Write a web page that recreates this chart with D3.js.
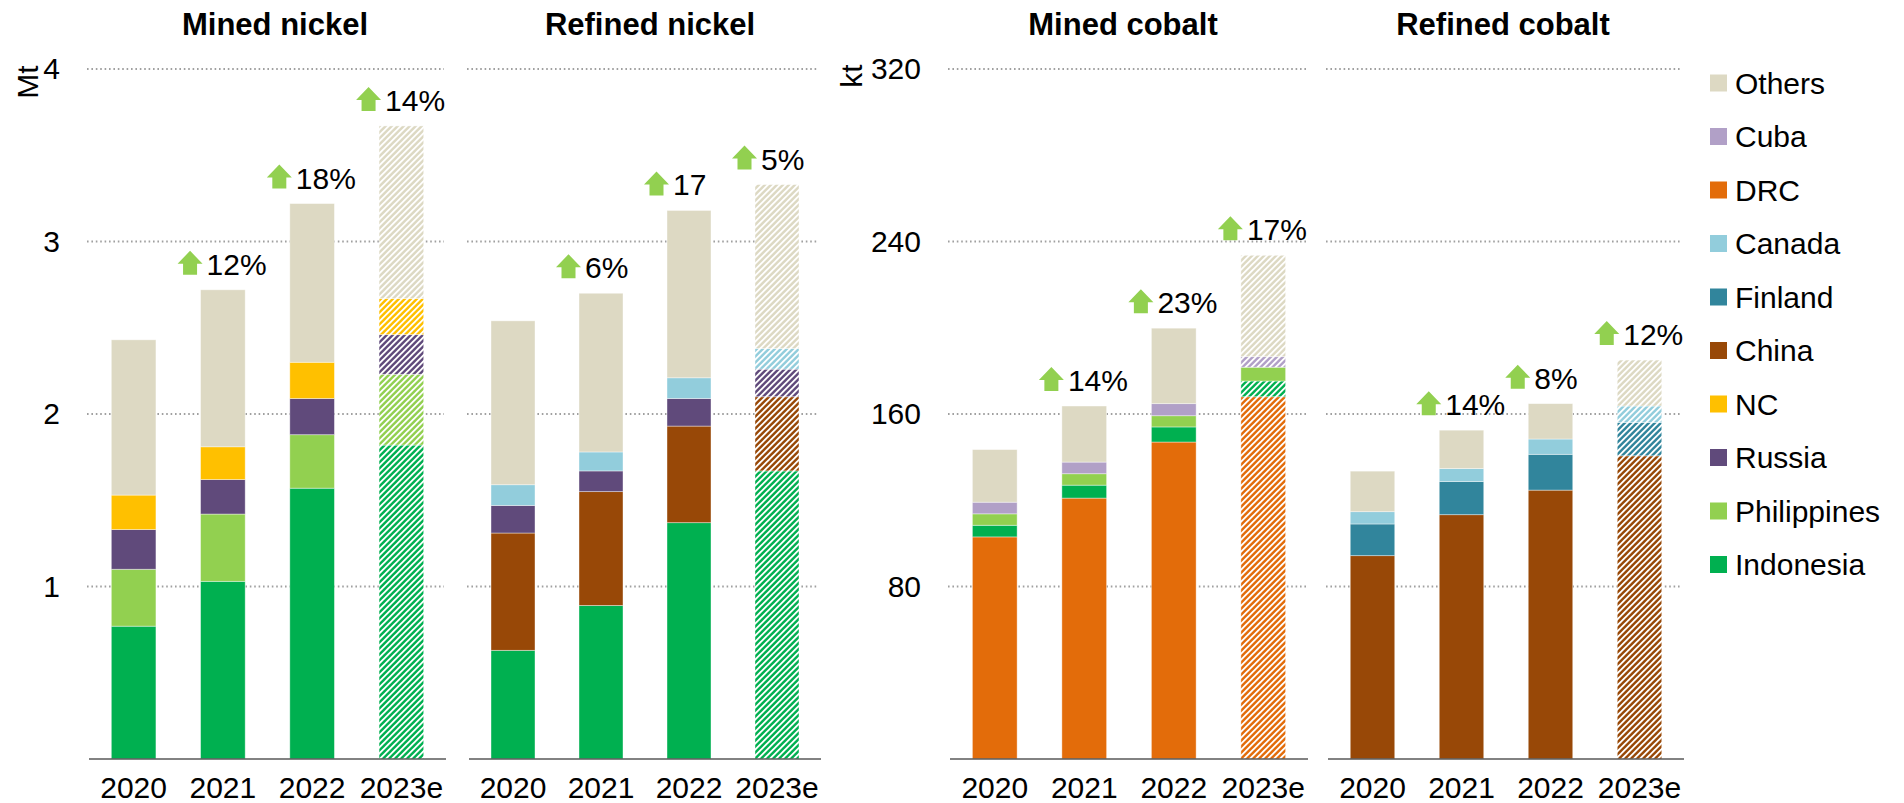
<!DOCTYPE html>
<html>
<head>
<meta charset="utf-8">
<script src="https://cdn.jsdelivr.net/npm/d3@7"></script>
<style>
  body { margin: 0; background: #fff; }
  svg { display: block; font-family: "Liberation Sans", Arial, sans-serif; }
</style>
</head>
<body>
<svg id="chart" width="1904" height="803"></svg>
<script>
// years on the x axis
const years = ["2020", "2021", "2022", "2023e"]

// legend order (top to bottom) and colours
const countries = ["Others", "Cuba", "DRC", "Canada", "Finland", "China", "NC", "Russia", "Philippines", "Indonesia"]
const countryColors = ["#DDD9C3", "#B1A0C7", "#E36C0A", "#92CDDC", "#31859C", "#984807", "#FFC000", "#604A7B", "#92D050", "#00B050"]

// mined nickel, Mt
const mnIndonesia   = [0.77, 1.03, 1.57, 1.82]
const mnPhilippines = [0.33, 0.39, 0.31, 0.41]
const mnRussia      = [0.23, 0.20, 0.21, 0.23]
const mnNC          = [0.20, 0.19, 0.21, 0.21]
const mnOthers      = [0.90, 0.91, 0.92, 1.00]
const mnGrowth      = ["", "12%", "18%", "14%"]

// refined nickel, Mt
const rnIndonesia = [0.63, 0.89, 1.37, 1.67]
const rnChina     = [0.68, 0.66, 0.56, 0.43]
const rnRussia    = [0.16, 0.12, 0.16, 0.16]
const rnCanada    = [0.12, 0.11, 0.12, 0.12]
const rnOthers    = [0.95, 0.92, 0.97, 0.95]
const rnGrowth    = ["", "6%", "17", "5%"]

// mined cobalt, kt
const mcDRC         = [103, 121, 147, 168]
const mcIndonesia   = [5.4, 6.0, 7.0, 7.3]
const mcPhilippines = [5.3, 5.3, 5.2, 6.4]
const mcCuba        = [5.4, 5.4, 5.6, 4.9]
const mcOthers      = [24.4, 26.0, 35.0, 47.0]
const mcGrowth      = ["", "14%", "23%", "17%"]

// refined cobalt, kt
const rcChina   = [94.3, 113.3, 124.7, 140.6]
const rcFinland = [14.7, 15.4, 16.6, 15.5]
const rcCanada  = [5.7, 6.0, 7.1, 7.6]
const rcOthers  = [18.8, 17.8, 16.4, 21.3]
const rcGrowth  = ["", "14%", "8%", "12%"]

const nickelTicks = [1, 2, 3, 4]
const cobaltTicks = [80, 160, 240, 320]

const panels = [
  { title: "Mined nickel", keys: ["Indonesia", "Philippines", "Russia", "NC", "Others"],
    series: [mnIndonesia, mnPhilippines, mnRussia, mnNC, mnOthers], growth: mnGrowth,
    max: 4, ticks: nickelTicks, labels: true, x0: 89, x1: 446, titleX: 275 },
  { title: "Refined nickel", keys: ["Indonesia", "China", "Russia", "Canada", "Others"],
    series: [rnIndonesia, rnChina, rnRussia, rnCanada, rnOthers], growth: rnGrowth,
    max: 4, ticks: nickelTicks, labels: false, x0: 469, x1: 821, titleX: 650 },
  { title: "Mined cobalt", keys: ["DRC", "Indonesia", "Philippines", "Cuba", "Others"],
    series: [mcDRC, mcIndonesia, mcPhilippines, mcCuba, mcOthers], growth: mcGrowth,
    max: 320, ticks: cobaltTicks, labels: true, x0: 950, x1: 1308, titleX: 1123,
    solidEstimate: ["Philippines"] },
  { title: "Refined cobalt", keys: ["China", "Finland", "Canada", "Others"],
    series: [rcChina, rcFinland, rcCanada, rcOthers], growth: rcGrowth,
    max: 320, ticks: cobaltTicks, labels: false, x0: 1328, x1: 1684, titleX: 1503 }
]

const plotTop = 69, plotBottom = 759
const color = d3.scaleOrdinal().domain(countries).range(countryColors)
const svg = d3.select("#chart")

// hatch patterns for the 2023 estimates ("/" stripes)
const defs = svg.append("defs")
const hp = 6, hs = 3.4
countries.forEach((c, i) => {
  const p = defs.append("pattern")
    .attr("id", "hatch-" + i)
    .attr("patternUnits", "userSpaceOnUse")
    .attr("width", hp).attr("height", hp)
  p.append("rect").attr("width", hp).attr("height", hp).attr("fill", "#fff")
  p.append("path")
    .attr("d", `M0,0 L${hs},0 L0,${hs} Z M0,${hp} L${hp},0 L${hp},${hs} L${hs},${hp} Z`)
    .attr("fill", countryColors[i])
})

function arrowPath (x, base) {
  return `M${x + 5.5},${base} L${x + 19.5},${base} L${x + 19.5},${base - 11} L${x + 25},${base - 11}
    L${x + 12.5},${base - 24} L${x},${base - 11} L${x + 5.5},${base - 11} Z`
}

panels.forEach(panel => {
  const x = d3.scaleBand().domain(years).range([panel.x0, panel.x1])
    .paddingInner(0.5).paddingOuter(0.25)
  const y = d3.scaleLinear().domain([0, panel.max]).range([plotBottom, plotTop])
  const g = svg.append("g")

  // dotted gridlines
  g.append("g").selectAll("line")
    .data(panel.ticks)
    .join("line")
      .attr("x1", panel.x0 - 2).attr("x2", panel.x1 - 2)
      .attr("y1", d => y(d)).attr("y2", d => y(d))
      .attr("stroke", "#a0a0a0")
      .attr("stroke-width", 2)
      .attr("stroke-dasharray", "1.6,2.8")

  if (panel.labels) {
    const ax = g.append("g")
      .attr("transform", `translate(${panel.x0 - 1},0)`)
      .call(d3.axisLeft(y).tickValues(panel.ticks).tickFormat(d3.format("d"))
        .tickSize(0).tickPadding(28))
    ax.select(".domain").remove()
    ax.selectAll("text").attr("font-size", 30).attr("font-family", "Liberation Sans, Arial")
      .attr("fill", "#000")
  }

  const rows = years.map((yr, i) => {
    const r = { year: yr }
    panel.keys.forEach((k, j) => { r[k] = panel.series[j][i] })
    return r
  })
  const stacked = d3.stack().keys(panel.keys)(rows)
  const solid = panel.solidEstimate || []

  g.append("g").selectAll("g")
    .data(stacked)
    .join("g")
    .each(function (layer) {
      const key = layer.key
      const idx = countries.indexOf(key)
      d3.select(this).selectAll("rect")
        .data(layer)
        .join("rect")
          .attr("x", d => x(d.data.year))
          .attr("width", x.bandwidth())
          .attr("y", d => y(d[1]))
          .attr("height", d => y(d[0]) - y(d[1]))
          .attr("fill", d => (d.data.year === "2023e" && !solid.includes(key))
            ? `url(#hatch-${idx})` : color(key))
          .attr("stroke", "#fff")
          .attr("stroke-width", 0.8)
          .attr("stroke-opacity", 0.5)
    })

  // baseline
  g.append("line")
    .attr("x1", panel.x0).attr("x2", panel.x1)
    .attr("y1", plotBottom).attr("y2", plotBottom)
    .attr("stroke", "#595959").attr("stroke-width", 1.5)

  const xa = g.append("g")
    .attr("transform", `translate(0,${plotBottom})`)
    .call(d3.axisBottom(x).tickSize(0).tickPadding(18))
  xa.select(".domain").remove()
  xa.selectAll("text").attr("font-size", 30).attr("font-family", "Liberation Sans, Arial")
    .attr("fill", "#000")

  // growth annotations
  const tops = stacked[stacked.length - 1]
  const notes = rows.map((r, i) => ({ year: r.year, label: panel.growth[i], total: tops[i][1] }))
    .filter(d => d.label)
  const ng = g.append("g").selectAll("g").data(notes).join("g")
  ng.append("path")
    .attr("d", d => arrowPath(x(d.year) + 6 - 29, y(d.total) - 15))
    .attr("fill", "#92D050")
  ng.append("text")
    .attr("x", d => x(d.year) + 6)
    .attr("y", d => y(d.total) - 15)
    .attr("font-size", 30)
    .text(d => d.label)

  svg.append("text")
    .attr("x", panel.titleX).attr("y", 35)
    .attr("text-anchor", "middle")
    .attr("font-size", 31).attr("font-weight", "bold")
    .text(panel.title)
})

// unit labels
svg.append("text")
  .attr("transform", "translate(27,82) rotate(-90)")
  .attr("text-anchor", "middle").attr("dominant-baseline", "central")
  .attr("font-size", 30).text("Mt")
svg.append("text")
  .attr("transform", "translate(851,76) rotate(-90)")
  .attr("text-anchor", "middle").attr("dominant-baseline", "central")
  .attr("font-size", 30).text("kt")

// legend
const legend = svg.append("g").selectAll("g")
  .data(countries)
  .join("g")
    .attr("transform", (d, i) => `translate(1710,${83 + i * 53.5})`)
legend.append("rect")
  .attr("y", -8.5).attr("width", 17).attr("height", 17)
  .attr("fill", d => color(d))
legend.append("text")
  .attr("x", 25).attr("dy", "0.35em")
  .attr("font-size", 30)
  .text(d => d)
</script>
</body>
</html>
